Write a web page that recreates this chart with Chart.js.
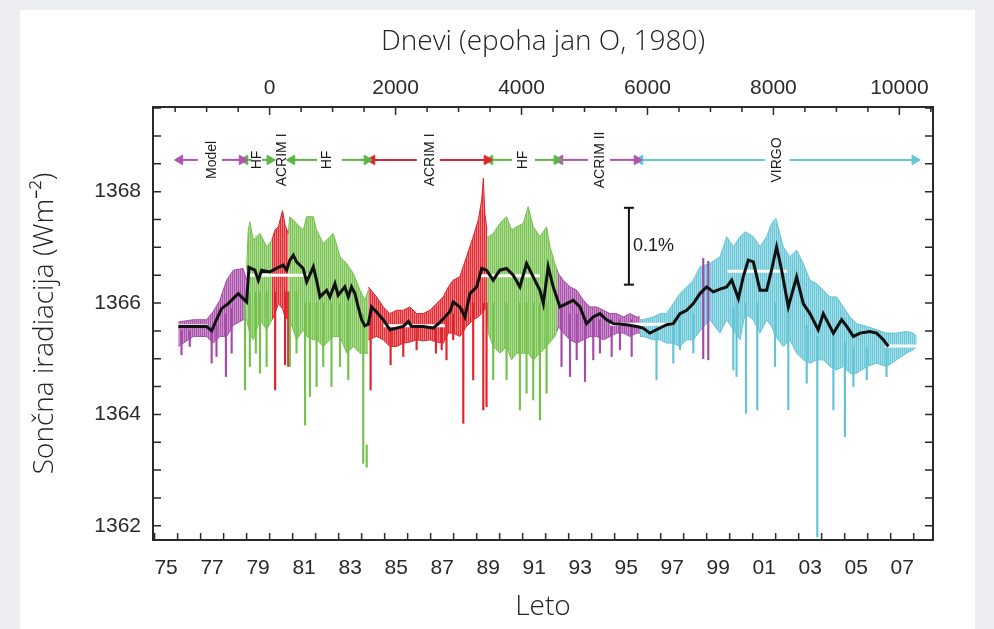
<!DOCTYPE html>
<html>
<head>
<meta charset="utf-8">
<script src="https://cdn.jsdelivr.net/npm/chart.js@4"></script>
<style>
  html, body { margin: 0; background: #eceef1; }
  #card { position: absolute; left: 20px; top: 10px; width: 955px; height: 619px; background: #fff; }
  #wrap { position: absolute; left: 0; top: 0; width: 994px; height: 629px; }
</style>
</head>
<body>
<div id="card"></div>
<div id="wrap"><canvas id="tsi" width="994" height="629"></canvas></div>
<script>
// axis ranges (years / W m-2)
const X_MIN = 1974.93, X_MAX = 2008.84;
const Y_MIN = 1361.745, Y_MAX = 1369.52;

// tick positions and labels
const YEAR_TICKS = [1975, 1976, 1977, 1978, 1979, 1980, 1981, 1982, 1983, 1984, 1985, 1986, 1987, 1988, 1989, 1990, 1991,
  1992, 1993, 1994, 1995, 1996, 1997, 1998, 1999, 2000, 2001, 2002, 2003, 2004, 2005, 2006, 2007, 2008];
const LABEL_YEARS = [1975, 1977, 1979, 1981, 1983, 1985, 1987, 1989, 1991, 1993, 1995, 1997, 1999, 2001, 2003, 2005, 2007];
const YEAR_LABELS = ['75', '77', '79', '81', '83', '85', '87', '89', '91', '93', '95', '97', '99', '01', '03', '05', '07'];
const DAY_TICKS = [-1500, -1000, -500, 0, 500, 1000, 1500, 2000, 2500, 3000, 3500, 4000, 4500, 5000, 5500, 6000,
  6500, 7000, 7500, 8000, 8500, 9000, 9500, 10000, 10500];
const DAY_LABELS = [0, 2000, 4000, 6000, 8000, 10000];
const Y_TICKS = [1362, 1362.5, 1363, 1363.5, 1364, 1364.5, 1365, 1365.5, 1366, 1366.5, 1367, 1367.5, 1368, 1368.5, 1369, 1369.5];
const Y_LABELS = [1362, 1364, 1366, 1368];

// daily data envelopes per instrument (upper / lower edge of the spread)
const modelT  = [1976.03, 1976.68, 1977.26, 1977.55, 1977.84, 1978.13, 1978.42, 1978.85, 1979.0];
const modelHi = [1365.66, 1365.70, 1365.70, 1365.85, 1366.05, 1366.41, 1366.59, 1366.62, 1366.41];
const modelLo = [1365.22, 1365.40, 1365.40, 1365.28, 1365.40, 1365.40, 1365.60, 1365.70, 1365.70];

const hf1T  = [1979.0, 1979.07, 1979.14, 1979.29, 1979.58, 1979.87, 1980.1];
const hf1Hi = [1366.6, 1367.31, 1367.46, 1367.13, 1367.25, 1367.01, 1367.13];
const hf1Lo = [1365.7, 1365.58, 1365.45, 1365.34, 1365.70, 1365.52, 1365.70];

const acrim1aT  = [1980.1, 1980.23, 1980.38, 1980.56, 1980.67, 1980.81];
const acrim1aHi = [1367.13, 1367.31, 1367.37, 1367.66, 1367.40, 1367.25];
const acrim1aLo = [1365.70, 1365.81, 1365.99, 1365.90, 1365.75, 1365.70];

const hf2T  = [1980.81, 1980.88, 1981.17, 1981.46, 1981.61, 1981.90, 1982.04, 1982.33, 1982.62, 1982.77, 1983.06,
  1983.35, 1983.64, 1983.93, 1984.14, 1984.29];
const hf2Hi = [1367.25, 1367.55, 1367.43, 1367.31, 1367.55, 1367.55, 1367.31, 1367.07, 1367.19, 1367.25, 1366.83,
  1366.71, 1366.53, 1366.23, 1366.05, 1366.23];
const hf2Lo = [1365.70, 1365.70, 1365.34, 1365.52, 1365.40, 1365.34, 1365.34, 1365.22, 1365.34, 1365.40, 1365.40,
  1365.10, 1365.22, 1365.10, 1365.10, 1365.10];

const acrim1bT  = [1984.29, 1984.65, 1984.94, 1985.23, 1985.52, 1985.81, 1986.10, 1986.39, 1986.68, 1986.97, 1987.26,
  1987.55, 1987.77, 1987.98, 1988.27, 1988.56, 1988.85, 1989.07, 1989.22, 1989.29, 1989.36, 1989.45];
const acrim1bHi = [1366.29, 1366.11, 1365.93, 1365.81, 1365.87, 1365.87, 1365.93, 1365.81, 1365.81, 1365.87, 1365.99,
  1366.11, 1366.29, 1366.41, 1366.47, 1366.83, 1367.19, 1367.49, 1367.85, 1368.24, 1367.60, 1367.31];
const acrim1bLo = [1365.34, 1365.40, 1365.34, 1365.22, 1365.22, 1365.28, 1365.30, 1365.34, 1365.32, 1365.34, 1365.30,
  1365.28, 1365.46, 1365.46, 1365.40, 1365.58, 1365.70, 1365.75, 1365.81, 1365.85, 1365.90, 1365.93];

const hf3T  = [1989.45, 1989.51, 1989.72, 1990.01, 1990.30, 1990.52, 1990.74, 1991.03, 1991.24, 1991.46, 1991.75,
  1992.04, 1992.19, 1992.40, 1992.5];
const hf3Hi = [1367.20, 1367.19, 1367.25, 1367.43, 1367.55, 1367.31, 1367.37, 1367.43, 1367.73, 1367.37, 1367.19,
  1367.37, 1367.01, 1366.71, 1366.60];
const hf3Lo = [1365.90, 1365.46, 1365.22, 1365.10, 1365.22, 1364.98, 1365.10, 1365.10, 1365.10, 1364.98, 1365.10,
  1365.22, 1365.30, 1365.40, 1365.50];

const acrim2T  = [1992.5, 1992.55, 1992.77, 1993.06, 1993.35, 1993.64, 1993.93, 1994.22, 1994.51, 1994.80, 1995.09,
  1995.38, 1995.66, 1995.96, 1996.1];
const acrim2Hi = [1366.60, 1366.53, 1366.41, 1366.29, 1366.23, 1366.05, 1365.93, 1365.93, 1365.87, 1365.81, 1365.81,
  1365.75, 1365.81, 1365.75, 1365.75];
const acrim2Lo = [1365.50, 1365.58, 1365.46, 1365.34, 1365.28, 1365.34, 1365.40, 1365.40, 1365.34, 1365.40, 1365.46,
  1365.46, 1365.40, 1365.46, 1365.46];

const virgoT  = [1996.1, 1996.24, 1996.68, 1996.97, 1997.26, 1997.55, 1997.84, 1998.13, 1998.42, 1998.71, 1999.14,
  1999.58, 1999.87, 2000.16, 2000.45, 2000.67, 2001.03, 2001.32, 2001.61, 2001.82, 2002.01, 2002.33, 2002.62,
  2002.91, 2003.20, 2003.49, 2003.78, 2004.07, 2004.36, 2004.65, 2004.94, 2005.23, 2005.52, 2005.96, 2006.39,
  2006.82, 2007.26, 2007.69, 2007.98, 2008.13];
const virgoHi = [1365.70, 1365.70, 1365.75, 1365.81, 1365.81, 1365.99, 1366.17, 1366.29, 1366.41, 1366.65, 1366.71,
  1366.83, 1367.19, 1367.01, 1367.19, 1367.28, 1367.19, 1367.01, 1367.19, 1367.43, 1367.52, 1367.01, 1366.83,
  1366.95, 1366.71, 1366.41, 1366.35, 1366.23, 1366.11, 1366.11, 1365.93, 1365.75, 1365.63, 1365.58, 1365.52,
  1365.46, 1365.46, 1365.49, 1365.46, 1365.40];
const virgoLo = [1365.40, 1365.40, 1365.34, 1365.34, 1365.28, 1365.28, 1365.22, 1365.34, 1365.34, 1365.50, 1365.70,
  1365.46, 1365.70, 1365.52, 1365.34, 1365.81, 1365.70, 1365.46, 1365.70, 1365.58, 1365.40, 1365.22, 1365.34,
  1365.10, 1364.98, 1364.92, 1364.98, 1364.98, 1364.86, 1364.80, 1364.86, 1364.74, 1364.74, 1364.86, 1364.92,
  1364.86, 1364.98, 1365.10, 1365.16, 1365.22];

// single-day dips (sunspot passages) and other isolated values
const DIP_T   = [1976.17, 1976.53, 1977.48, 1977.69, 1978.10, 1978.35,
  1978.93, 1979.14, 1979.40, 1979.58, 1979.87,
  1980.24, 1980.67, 1980.81,
  1980.88, 1981.17, 1981.54, 1981.75, 1982.04, 1982.33, 1982.69, 1983.06, 1983.42, 1984.07, 1984.22,
  1984.39, 1985.26, 1985.81, 1986.39, 1987.23, 1987.48, 1987.69, 1987.98, 1988.42, 1988.85, 1989.29, 1989.43,
  1989.72, 1990.30, 1990.88, 1991.17, 1991.46, 1991.75, 1992.04,
  1992.69, 1993.06, 1993.35, 1993.71, 1994.07, 1994.36, 1994.87, 1995.23, 1995.74,
  1996.82, 1997.55, 1997.84, 1998.42, 2000.16, 2000.30, 2000.71, 2001.20, 2001.97, 2002.55, 2003.35, 2003.81,
  2004.51, 2005.01, 2005.38, 2005.96, 2006.82,
  1998.85, 1999.07];
const DIP_LO  = [1365.07, 1365.22, 1364.92, 1365.04, 1364.68, 1365.10,
  1364.44, 1364.86, 1365.10, 1364.74, 1364.86,
  1364.44, 1364.89, 1364.86,
  1364.86, 1365.10, 1363.81, 1364.32, 1364.50, 1364.86, 1364.50, 1364.86, 1364.62, 1363.12, 1363.05,
  1364.44, 1364.89, 1365.04, 1365.16, 1365.10, 1365.16, 1364.98, 1365.34, 1363.84, 1364.62, 1364.08, 1364.14,
  1364.62, 1364.62, 1364.08, 1364.38, 1364.26, 1363.90, 1364.38,
  1364.86, 1364.68, 1364.98, 1364.59, 1364.98, 1365.10, 1365.04, 1365.16, 1365.04,
  1364.62, 1364.92, 1365.16, 1365.10, 1364.80, 1364.68, 1364.02, 1364.08, 1364.86, 1364.08, 1364.56, 1361.80,
  1364.08, 1363.60, 1364.50, 1364.62, 1364.68,
  1365.00, 1364.98];
const DIP_HI  = [1365.5, 1365.5, 1365.5, 1365.6, 1365.8, 1365.9,
  1366.0, 1366.2, 1366.2, 1366.2, 1366.2,
  1366.2, 1366.2, 1366.2,
  1366.2, 1366.2, 1366.0, 1366.0, 1366.0, 1366.0, 1366.0, 1366.0, 1366.0, 1365.8, 1363.45,
  1365.8, 1365.6, 1365.6, 1365.6, 1365.6, 1365.6, 1365.8, 1365.8, 1365.9, 1366.0, 1366.0, 1366.0,
  1366.0, 1366.0, 1366.0, 1366.0, 1366.0, 1366.0, 1366.0,
  1365.9, 1365.8, 1365.8, 1365.7, 1365.7, 1365.7, 1365.7, 1365.7, 1365.7,
  1365.6, 1365.7, 1365.7, 1365.8, 1365.9, 1366.0, 1366.0, 1366.0, 1366.0, 1365.8, 1365.6, 1365.4,
  1365.4, 1365.3, 1365.2, 1365.2, 1365.2,
  1366.80, 1366.75];
const DIP_SRC = ['model', 'model', 'model', 'model', 'model', 'model',
  'hf', 'hf', 'hf', 'hf', 'hf',
  'acrim1', 'acrim1', 'acrim1',
  'hf', 'hf', 'hf', 'hf', 'hf', 'hf', 'hf', 'hf', 'hf', 'hf', 'hf',
  'acrim1', 'acrim1', 'acrim1', 'acrim1', 'acrim1', 'acrim1', 'acrim1', 'acrim1', 'acrim1', 'acrim1', 'acrim1', 'acrim1',
  'hf', 'hf', 'hf', 'hf', 'hf', 'hf', 'hf',
  'acrim2', 'acrim2', 'acrim2', 'acrim2', 'acrim2', 'acrim2', 'acrim2', 'acrim2', 'acrim2',
  'virgo', 'virgo', 'virgo', 'virgo', 'virgo', 'virgo', 'virgo', 'virgo', 'virgo', 'virgo', 'virgo', 'virgo',
  'virgo', 'virgo', 'virgo', 'virgo', 'virgo',
  'acrim2', 'acrim2'];

// 81-day running mean
const MEAN_T = [1976.03, 1976.68, 1977.26, 1977.48, 1977.69, 1977.91, 1978.20, 1978.49, 1978.64, 1978.85, 1979.0,
  1979.1, 1979.36, 1979.51, 1979.65, 1980.01, 1980.38, 1980.59, 1980.74, 1980.88, 1981.03, 1981.17, 1981.46, 1981.61,
  1981.90, 1982.04, 1982.19, 1982.48, 1982.62, 1982.84, 1982.98, 1983.27, 1983.42, 1983.56, 1983.71, 1983.85, 1984.0,
  1984.14, 1984.29, 1984.43, 1984.65, 1984.94, 1985.23, 1985.81, 1986.03, 1986.17, 1986.68, 1987.11, 1987.40, 1987.84,
  1987.98, 1988.27, 1988.49, 1988.71, 1989.0, 1989.22, 1989.43, 1989.72, 1990.01, 1990.30, 1990.59, 1990.88, 1991.17,
  1991.46, 1991.75, 1991.90, 1992.11, 1992.33, 1992.62, 1992.91, 1993.20, 1993.49, 1993.78, 1994.07, 1994.36, 1994.65,
  1994.94, 1995.52, 1995.96, 1996.24, 1996.53, 1996.82, 1997.26, 1997.55, 1997.84, 1998.13, 1998.42, 1998.71, 1999.0,
  1999.29, 1999.58, 1999.87, 2000.09, 2000.38, 2000.59, 2000.81, 2001.03, 2001.32, 2001.61, 2001.82, 2002.04, 2002.26,
  2002.55, 2002.91, 2003.20, 2003.49, 2003.85, 2004.07, 2004.51, 2004.87, 2005.09, 2005.38, 2005.67, 2006.10, 2006.39,
  2006.68, 2006.90];
const MEAN_V = [1365.58, 1365.58, 1365.58, 1365.50, 1365.70, 1365.90, 1365.99, 1366.11, 1366.17, 1366.08, 1366.02,
  1366.64, 1366.59, 1366.41, 1366.59, 1366.56, 1366.64, 1366.68, 1366.59, 1366.77, 1366.86, 1366.74, 1366.62, 1366.38,
  1366.65, 1366.41, 1366.11, 1366.23, 1366.11, 1366.35, 1366.14, 1366.29, 1366.11, 1366.29, 1366.17, 1365.93, 1365.70,
  1365.59, 1365.62, 1365.93, 1365.84, 1365.70, 1365.52, 1365.58, 1365.67, 1365.58, 1365.58, 1365.55, 1365.65, 1365.85,
  1366.02, 1365.93, 1365.75, 1366.17, 1366.29, 1366.62, 1366.59, 1366.41, 1366.59, 1366.62, 1366.50, 1366.29, 1366.71,
  1366.47, 1366.23, 1365.99, 1366.65, 1366.29, 1365.93, 1365.99, 1366.05, 1365.93, 1365.63, 1365.75, 1365.81, 1365.70,
  1365.63, 1365.61, 1365.58, 1365.55, 1365.46, 1365.52, 1365.61, 1365.63, 1365.81, 1365.87, 1365.99, 1366.17, 1366.29,
  1366.20, 1366.25, 1366.29, 1366.41, 1366.08, 1366.47, 1366.77, 1366.74, 1366.23, 1366.23, 1366.59, 1367.01, 1366.59,
  1365.93, 1366.47, 1365.99, 1365.81, 1365.52, 1365.81, 1365.46, 1365.70, 1365.58, 1365.40, 1365.46, 1365.49, 1365.46,
  1365.34, 1365.22];

// mean levels at minima / maxima (white bars)
const LEVEL_FROM = [1976.0, 1979.14, 1984.95, 1989.15, 1994.8, 1999.9, 2006.75];
const LEVEL_TO   = [1977.3, 1981.76, 1987.62, 1991.75, 1997.55, 2002.5, 2008.15];
const LEVEL_V    = [1365.59, 1366.50, 1365.59, 1366.49, 1365.62, 1366.57, 1365.23];

// instrument periods along the top (head of each arrow at "to")
const ARROW_Y = 1368.57;
const ARROW_FROM = [1976.88, 1977.93, 1979.23, 1979.67, 1982.06, 1983.14, 1986.4, 1987.4, 1990.53, 1991.53, 1993.84, 1994.8, 2001.53, 2002.6];
const ARROW_TO   = [1976.1, 1978.8, 1978.93, 1980.01, 1980.97, 1984.23, 1984.45, 1989.45, 1989.58, 1992.49, 1992.62, 1995.97, 1996.1, 2008.05];
const ARROW_SRC  = ['model', 'model', 'hf', 'hf', 'hf', 'hf', 'acrim1', 'acrim1', 'hf', 'hf', 'acrim2', 'acrim2', 'virgo', 'virgo'];
const LABEL_TEXT = ['Model', 'HF', 'ACRIM I', 'HF', 'ACRIM I', 'HF', 'ACRIM II', 'VIRGO'];
const LABEL_T    = [1977.5, 1979.45, 1980.53, 1982.5, 1986.97, 1991.0, 1994.36, 2002.07];

// 0.1 % scale bar
const BAR_T = 1995.62, BAR_LO = 1366.33, BAR_HI = 1367.71, BAR_TEXT = '0.1%', BAR_TEXT_Y = 1367.02;

const COLORS = { model: '#a64aa9', hf: '#74c24c', acrim1: '#e2232b', acrim2: '#a64aa9', virgo: '#62c5d7' };
const ARROW_COLORS = { model: '#b353b3', hf: '#5db544', acrim1: '#e0262b', acrim2: '#b353b3', virgo: '#63c7d8' };

const DAYS_PER_YEAR = 365.25, EPOCH = 1980;
const TICK_FONT = { family: '"Liberation Sans", Arial, sans-serif', size: 21 };
const TITLE_FONT = { family: '"Open Sans", sans-serif', size: 28, weight: '300', lineHeight: 1.2 };

const segments = [
  { t: modelT, hi: modelHi, lo: modelLo, src: 'model' },
  { t: hf1T, hi: hf1Hi, lo: hf1Lo, src: 'hf' },
  { t: acrim1aT, hi: acrim1aHi, lo: acrim1aLo, src: 'acrim1' },
  { t: hf2T, hi: hf2Hi, lo: hf2Lo, src: 'hf' },
  { t: acrim1bT, hi: acrim1bHi, lo: acrim1bLo, src: 'acrim1' },
  { t: hf3T, hi: hf3Hi, lo: hf3Lo, src: 'hf' },
  { t: acrim2T, hi: acrim2Hi, lo: acrim2Lo, src: 'acrim2' },
  { t: virgoT, hi: virgoHi, lo: virgoLo, src: 'virgo' },
];

const pts = (xs, ys) => xs.map((x, i) => ({ x, y: ys[i] }));

// fine vertical hatch so the spread reads like a bundle of daily lines
function stripes(color) {
  const c = document.createElement('canvas');
  c.width = 2; c.height = 1;
  const g = c.getContext('2d');
  g.fillStyle = color;
  g.globalAlpha = 0.95; g.fillRect(0, 0, 1, 1);
  g.globalAlpha = 0.6; g.fillRect(1, 0, 1, 1);
  return g.createPattern(c, 'repeat');
}

const datasets = [];
segments.forEach((s) => {
  const c = COLORS[s.src];
  datasets.push({ data: pts(s.t, s.hi), borderColor: c, backgroundColor: stripes(c), borderWidth: 1, fill: '+1', pointRadius: 0, order: 6 });
  datasets.push({ data: pts(s.t, s.lo), borderColor: c, borderWidth: 1, fill: false, pointRadius: 0, order: 6 });
});
datasets.push({
  type: 'bar',
  data: DIP_T.map((x, i) => ({ x, y: [DIP_LO[i], DIP_HI[i]] })),
  backgroundColor: DIP_SRC.map((k) => COLORS[k]),
  barThickness: 1.5,
  grouped: false,
  order: 5,
});
LEVEL_V.forEach((v, i) => datasets.push({
  data: [{ x: LEVEL_FROM[i], y: v }, { x: LEVEL_TO[i], y: v }],
  borderColor: '#ffffff', borderWidth: 3, pointRadius: 0, fill: false, order: 3,
}));
datasets.push({ data: pts(MEAN_T, MEAN_V), borderColor: '#111', borderWidth: 3, pointRadius: 0, fill: false, order: 2 });
ARROW_FROM.forEach((f, i) => {
  const c = ARROW_COLORS[ARROW_SRC[i]];
  const t = ARROW_TO[i];
  datasets.push({
    data: [{ x: f, y: ARROW_Y }, { x: t, y: ARROW_Y }],
    borderColor: c, borderWidth: 2, fill: false,
    pointStyle: 'triangle', pointRadius: [0, 5.5], pointRotation: [0, t > f ? 90 : -90],
    pointBackgroundColor: c, pointBorderColor: c, pointBorderWidth: 1, order: 1,
  });
});
datasets.push({
  data: [{ x: BAR_T, y: BAR_LO }, { x: BAR_T, y: BAR_HI }],
  borderColor: '#111', borderWidth: 2, fill: false,
  pointStyle: 'line', pointRadius: 5, pointBorderColor: '#111', pointBorderWidth: 2, order: 1,
});

// inward tick marks + frame
const frameTicks = {
  id: 'frameTicks',
  afterDraw(chart) {
    const { ctx, chartArea: a, scales } = chart;
    ctx.save();
    ctx.strokeStyle = '#2a2a2a';
    ctx.lineWidth = 1.5;
    ctx.beginPath();
    YEAR_TICKS.forEach((v) => {
      const px = scales.x.getPixelForValue(v);
      ctx.moveTo(px, a.bottom); ctx.lineTo(px, a.bottom - 7);
    });
    DAY_TICKS.forEach((v) => {
      const px = scales.x2.getPixelForValue(v);
      const len = DAY_LABELS.includes(v) ? 8 : 5;
      ctx.moveTo(px, a.top); ctx.lineTo(px, a.top + len);
    });
    Y_TICKS.forEach((v) => {
      const py = scales.y.getPixelForValue(v);
      ctx.moveTo(a.left, py); ctx.lineTo(a.left + 8, py);
      ctx.moveTo(a.right, py); ctx.lineTo(a.right - 8, py);
    });
    ctx.stroke();
    ctx.lineWidth = 2;
    ctx.strokeRect(a.left, a.top, a.right - a.left, a.bottom - a.top);
    ctx.restore();
  },
};

// instrument names and scale-bar text
const annotations = {
  id: 'annotations',
  afterDatasetsDraw(chart) {
    const { ctx, scales: { x, y } } = chart;
    ctx.save();
    ctx.fillStyle = '#1a1a1a';
    ctx.font = '14px "Liberation Sans", Arial, sans-serif';
    ctx.textAlign = 'center';
    ctx.textBaseline = 'middle';
    LABEL_TEXT.forEach((txt, i) => {
      ctx.save();
      ctx.translate(x.getPixelForValue(LABEL_T[i]), y.getPixelForValue(ARROW_Y));
      ctx.rotate(-Math.PI / 2);
      ctx.fillText(txt, 0, 0);
      ctx.restore();
    });
    ctx.font = '18px "Liberation Sans", Arial, sans-serif';
    ctx.textAlign = 'left';
    ctx.fillText(BAR_TEXT, x.getPixelForValue(BAR_T) + 4, y.getPixelForValue(BAR_TEXT_Y));
    ctx.restore();
  },
};

new Chart(document.getElementById('tsi'), {
  type: 'line',
  data: { datasets },
  plugins: [annotations, frameTicks],
  options: {
    responsive: false,
    animation: false,
    layout: { padding: { left: 0, right: 61, top: 0, bottom: 0 } },
    plugins: { legend: { display: false }, tooltip: { enabled: false } },
    scales: {
      x: {
        type: 'linear', position: 'bottom', min: X_MIN, max: X_MAX, offset: false,
        afterBuildTicks: (s) => { s.ticks = YEAR_TICKS.map((value) => ({ value })); },
        afterFit: (s) => { s.height = 89; },
        grid: { display: false }, border: { display: false },
        ticks: {
          autoSkip: false, maxRotation: 0, padding: 8, labelOffset: 11.5, color: '#2a2a2a', font: TICK_FONT,
          callback: (v) => { const i = LABEL_YEARS.indexOf(v); return i >= 0 ? YEAR_LABELS[i] : ''; },
        },
        title: { display: true, text: 'Leto', color: '#222', font: TITLE_FONT, padding: { top: 0, bottom: 5 } },
      },
      x2: {
        type: 'linear', position: 'top', offset: false,
        min: (X_MIN - EPOCH) * DAYS_PER_YEAR, max: (X_MAX - EPOCH) * DAYS_PER_YEAR,
        afterBuildTicks: (s) => { s.ticks = DAY_TICKS.map((value) => ({ value })); },
        afterFit: (s) => { s.height = 107; },
        grid: { display: false }, border: { display: false },
        ticks: {
          autoSkip: false, maxRotation: 0, padding: -2, color: '#2a2a2a', font: TICK_FONT,
          callback: (v) => (DAY_LABELS.includes(v) ? String(v) : ''),
        },
        title: { display: true, text: 'Dnevi (epoha jan O, 1980)', color: '#222', font: TITLE_FONT, padding: { top: 25, bottom: 0 } },
      },
      y: {
        type: 'linear', position: 'left', min: Y_MIN, max: Y_MAX,
        afterBuildTicks: (s) => { s.ticks = Y_TICKS.map((value) => ({ value })); },
        afterFit: (s) => { s.width = 153; },
        grid: { display: false }, border: { display: false },
        ticks: {
          autoSkip: false, padding: 4, color: '#2a2a2a', font: TICK_FONT,
          callback: (v) => (Y_LABELS.includes(v) ? String(v) : ''),
        },
        title: { display: true, text: 'Sončna iradiacija (Wm⁻²)', color: '#222', font: TITLE_FONT, padding: { top: 28, bottom: 0 } },
      },
    },
  },
});
</script>
</body>
</html>
